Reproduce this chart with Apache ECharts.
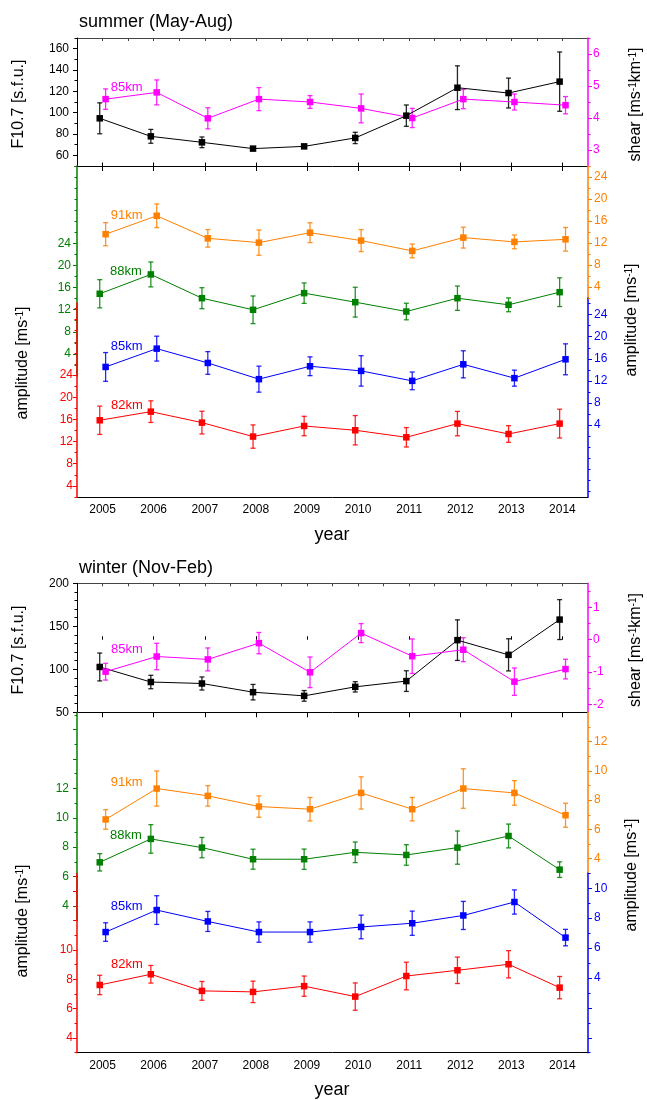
<!DOCTYPE html>
<html>
<head>
<meta charset="utf-8">
<script src="https://cdn.jsdelivr.net/npm/echarts@6/dist/echarts.min.js"></script>
<style>
  html, body { margin: 0; padding: 0; background: #ffffff; }
  #chart { width: 647px; height: 1100px; }
</style>
</head>
<body>
<div id="chart"></div>
<script>
// ---------------- data ----------------
const years = [2005, 2006, 2007, 2008, 2009, 2010, 2011, 2012, 2013, 2014];

// summer (May-Aug)
const sumF107       = [94.7, 77.8, 72.2, 66.3, 68.4, 76.3, 97.2, 123.4, 118.4, 129.1];
const sumF107Err    = [14.5, 6.5, 5.0, 1.5, 1.5, 5.3, 10.0, 20.5, 14.0, 27.8];
const sumShear85    = [4.59, 4.80, 3.99, 4.59, 4.50, 4.30, 4.00, 4.59, 4.50, 4.40];
const sumShear85Err = [0.32, 0.39, 0.33, 0.36, 0.20, 0.45, 0.30, 0.30, 0.25, 0.27];
const sumAmp91      = [13.6, 16.95, 12.85, 12.07, 13.88, 12.44, 10.56, 12.98, 12.2, 12.67];
const sumAmp91Err   = [2.1, 2.15, 1.6, 2.3, 1.8, 2.0, 1.25, 1.9, 1.25, 2.15];
const sumAmp88      = [14.88, 18.38, 14.08, 11.98, 14.99, 13.36, 11.67, 14.08, 12.88, 15.17];
const sumAmp88Err   = [2.55, 2.25, 1.9, 2.5, 1.85, 2.7, 1.5, 2.2, 1.25, 2.6];
const sumAmp85      = [14.53, 17.84, 15.25, 12.32, 14.65, 13.81, 12.01, 15.0, 12.5, 15.91];
const sumAmp85Err   = [2.6, 2.25, 2.05, 2.35, 1.7, 2.75, 1.6, 2.45, 1.45, 2.8];
const sumAmp82      = [15.84, 17.4, 15.42, 12.9, 14.81, 14.04, 12.77, 15.24, 13.37, 15.24];
const sumAmp82Err   = [2.55, 1.95, 2.05, 2.1, 1.75, 2.65, 1.75, 2.2, 1.5, 2.6];

// winter (Nov-Feb)
const winF107       = [102.7, 85.2, 83.5, 73.4, 69.1, 79.6, 86.3, 133.9, 116.8, 157.8];
const winF107Err    = [16.2, 7.8, 7.6, 9.0, 6.2, 6.0, 12.0, 23.6, 18.7, 23.2];
const winShear85    = [-0.99, -0.52, -0.61, -0.105, -1.01, 0.205, -0.51, -0.31, -1.30, -0.91];
const winShear85Err = [0.26, 0.41, 0.355, 0.33, 0.475, 0.295, 0.535, 0.37, 0.425, 0.305];
const winAmp91      = [6.68, 8.79, 8.29, 7.56, 7.38, 8.49, 7.38, 8.79, 8.49, 6.97];
const winAmp91Err   = [0.67, 1.2, 0.7, 0.73, 0.8, 1.1, 0.8, 1.35, 0.84, 0.82];
const winAmp88      = [6.97, 8.56, 7.97, 7.18, 7.18, 7.65, 7.47, 7.97, 8.76, 6.47];
const winAmp88Err   = [0.59, 0.97, 0.69, 0.68, 0.69, 0.7, 0.7, 1.13, 0.81, 0.53];
const winAmp85      = [7.07, 8.54, 7.78, 7.07, 7.07, 7.41, 7.66, 8.18, 9.08, 6.70];
const winAmp85Err   = [0.62, 0.96, 0.67, 0.68, 0.68, 0.79, 0.81, 0.94, 0.81, 0.55];
const winAmp82      = [7.61, 8.34, 7.21, 7.14, 7.53, 6.82, 8.22, 8.61, 9.02, 7.43];
const winAmp82Err   = [0.66, 0.6, 0.64, 0.73, 0.69, 0.93, 0.94, 0.9, 0.93, 0.76];

// tick labels
const sumF107Ticks  = [60, 80, 100, 120, 140, 160];
const sumShearTicks = [3, 4, 5, 6];
const sumAmpTicks   = [4, 8, 12, 16, 20, 24];
const winF107Ticks  = [50, 100, 150, 200];
const winShearTicks = [-2, -1, 0, 1];
const winGreenTicks = [4, 6, 8, 10, 12];
const winRedTicks   = [4, 6, 8, 10];
const winOrangeTicks = [4, 6, 8, 10, 12];
const winBlueTicks  = [4, 6, 8, 10];

// ---------------- layout / style ----------------
const FONT = '"Liberation Sans", Arial, Helvetica, sans-serif';
const COL = { black: '#000000', magenta: '#ff00ff', orange: '#ff8000', green: '#008000', blue: '#0000ff', red: '#ff0000' };
const X_MIN = 2004.5, X_MAX = 2014.5;
const LEFT = 77, RIGHT = 59;
const OFF_L = -0.055, OFF_R = 0.06;   // small horizontal shift between overlapping series

const grids = [], xAxes = [], yAxes = [], series = [], graphics = [];

function range(a, b, step) {
  const out = [];
  for (let v = a; v <= b + 1e-9; v += step) out.push(+v.toFixed(6));
  return out;
}

function addGrid(top, bottom) {
  grids.push({ left: LEFT, right: RIGHT, top: top, height: bottom - top });
  return grids.length - 1;
}

function addXAxis(gi, extra) {
  xAxes.push(Object.assign({
    gridIndex: gi, type: 'value', min: X_MIN, max: X_MAX, position: 'bottom',
    axisLine: { show: false }, axisTick: { show: false }, axisLabel: { show: false },
    splitLine: { show: false }
  }, extra || {}));
  return xAxes.length - 1;
}

function addHiddenY(gi) {
  yAxes.push({ gridIndex: gi, type: 'value', min: 0, max: 1, show: false });
  return yAxes.length - 1;
}

// a coloured y axis: one axis carries line, long ticks and labels, a twin carries short ticks
function addYAxis(gi, cfg) {
  const base = { gridIndex: gi, type: 'value', min: cfg.min, max: cfg.max, position: cfg.side,
                 splitLine: { show: false }, z: cfg.z || 5 };
  yAxes.push(Object.assign({}, base, {
    axisLine: { show: true, onZero: false, lineStyle: { color: cfg.color, width: cfg.lineWidth || 1.5 } },
    axisTick: { show: true, inside: !!cfg.inside, length: 4, customValues: cfg.majors,
                lineStyle: { color: cfg.color, width: 1 } },
    axisLabel: { show: true, customValues: cfg.labels, margin: cfg.margin, color: cfg.color,
                 fontSize: 12, fontFamily: FONT, formatter: v => String(v) }
  }));
  const idx = yAxes.length - 1;
  yAxes.push(Object.assign({}, base, {
    axisLine: { show: false },
    axisTick: { show: true, inside: !!cfg.inside, length: 2.5, customValues: cfg.minors,
                lineStyle: { color: cfg.color, width: 1 } },
    axisLabel: { show: false }
  }));
  return idx;
}

function errorBarRenderer(color) {
  return function (params, api) {
    const x = api.value(0);
    const lo = api.coord([x, api.value(1)]);
    const hi = api.coord([x, api.value(2)]);
    const w = 2.5;
    const st = { stroke: color, lineWidth: 1.3, opacity: 0.85 };
    return {
      type: 'group', children: [
        { type: 'line', shape: { x1: lo[0], y1: lo[1], x2: hi[0], y2: hi[1] }, style: st },
        { type: 'line', shape: { x1: lo[0] - w, y1: lo[1], x2: lo[0] + w, y2: lo[1] }, style: st },
        { type: 'line', shape: { x1: hi[0] - w, y1: hi[1], x2: hi[0] + w, y2: hi[1] }, style: st }
      ]
    };
  };
}

function addSeries(name, xi, yi, vals, errs, color, off) {
  series.push({
    name: name + ' err', type: 'custom', xAxisIndex: xi, yAxisIndex: yi, z: 3, silent: true,
    animation: false, clip: false,
    data: years.map((yr, i) => [yr + off, vals[i] - errs[i], vals[i] + errs[i]]),
    encode: { x: 0, y: [1, 2] },
    renderItem: errorBarRenderer(color)
  });
  series.push({
    name: name, type: 'line', xAxisIndex: xi, yAxisIndex: yi, z: 4, silent: true,
    animation: false, clip: false, showAllSymbol: true,
    data: years.map((yr, i) => [yr + off, vals[i]]),
    symbol: 'rect', symbolSize: 6.5,
    lineStyle: { color: color, width: 1 }, itemStyle: { color: color }
  });
}

function text(x, y, str, color, size, align) {
  graphics.push({
    type: 'text', x: x, y: y, silent: true,
    style: { text: str, fill: color, font: size + 'px ' + FONT,
             textAlign: align || 'left', textVerticalAlign: 'middle' }
  });
}

function vtext(x, y, str) {
  graphics.push({
    type: 'text', x: x, y: y, rotation: Math.PI / 2, silent: true,
    style: { text: str, fill: '#000', font: '16px ' + FONT,
             textAlign: 'center', textVerticalAlign: 'middle',
             rich: { s: { fontSize: 10, fontFamily: FONT, fill: '#000', verticalAlign: 'top', padding: [0, 0, 6, 0] } } }
  });
}

// ---------------- one season block ----------------
function buildSeason(cfg) {
  // upper panel: F10.7 and wind shear
  const gTop = addGrid(cfg.topPanel[0], cfg.topPanel[1]);
  const xTop = addXAxis(gTop, {
    position: 'bottom',
    axisLine: { show: true, onZero: false, lineStyle: { color: '#000', width: 1 } },
    axisTick: { show: true, length: 5, customValues: years, lineStyle: { color: '#000' } }
  });
  addXAxis(gTop, {
    position: 'bottom',
    axisTick: { show: true, inside: true, length: 3.5, customValues: years, lineStyle: { color: '#000' } }
  });
  addXAxis(gTop, {
    position: 'top',
    axisLine: { show: true, onZero: false, lineStyle: { color: '#444', width: 1 } },
    axisTick: { show: true, inside: true, length: 3, customValues: range(2005, 2014, 0.5), lineStyle: { color: '#444' } }
  });
  const yF = addYAxis(gTop, Object.assign({ side: 'left', color: COL.black, lineWidth: 1, margin: 8 }, cfg.f107Axis));
  const yS = addYAxis(gTop, Object.assign({ side: 'right', color: COL.magenta, margin: 5 }, cfg.shearAxis));
  addSeries('F10.7', xTop, yF, cfg.f107, cfg.f107Err, COL.black, OFF_L);
  addSeries('shear 85km', xTop, yS, cfg.shear, cfg.shearErr, COL.magenta, OFF_R);

  // lower panel frame with the year axis
  const gLow = addGrid(cfg.lowPanel[0], cfg.lowPanel[1]);
  addXAxis(gLow, {
    position: 'bottom',
    axisLine: { show: true, onZero: false, lineStyle: { color: '#000', width: 1 } },
    axisLabel: { show: true, customValues: years, margin: 7, color: '#000', fontSize: 12, fontFamily: FONT,
                 formatter: v => String(v) }
  });
  addHiddenY(gLow);

  // one layer per altitude, each with its own scale
  cfg.layers.forEach(L => {
    const g = addGrid(L.top, L.bottom);
    const xi = addXAxis(g, {});
    const yi = addYAxis(g, {
      side: L.side, color: L.color, min: L.min, max: L.max, majors: L.majors, minors: L.minors,
      labels: L.labels, margin: L.margin, z: L.z
    });
    addSeries(L.name, xi, yi, L.vals, L.errs, L.color, L.off);
  });

  // texts
  text(79, cfg.titleY, cfg.title, '#000', 18);
  vtext(19, cfg.f107LabelY, 'F10.7 [s.f.u.]');
  vtext(636, cfg.shearLabelY, 'shear [ms{s|-1}km{s|-1}]');
  vtext(23, cfg.ampLeftY, 'amplitude [ms{s|-1}]');
  vtext(632, cfg.ampRightY, 'amplitude [ms{s|-1}]');
  text(332, cfg.yearY, 'year', '#000', 18, 'center');
  cfg.tags.forEach(t => text(t[0], t[1], t[2], t[3], 13));
}

buildSeason({
  title: 'summer (May-Aug)', titleY: 22.5,
  topPanel: [38, 166], lowPanel: [166, 497],
  f107: sumF107, f107Err: sumF107Err, shear: sumShear85, shearErr: sumShear85Err,
  f107Axis: { min: 50, max: 170, majors: range(60, 160, 20), minors: range(50, 170, 10), labels: sumF107Ticks },
  shearAxis: { min: 2.5, max: 6.5, majors: [3, 4, 5, 6], minors: range(2.5, 6.5, 0.5), labels: sumShearTicks },
  layers: [
    { name: '88km', top: 166, bottom: 376, min: 0, max: 38, side: 'left', color: COL.green, off: OFF_L,
      majors: range(4, 24, 4), minors: range(2, 38, 2), labels: sumAmpTicks, margin: 6, z: 5,
      vals: sumAmp88, errs: sumAmp88Err },
    { name: '82km', top: 303, bottom: 497, min: 2, max: 37, side: 'left', color: COL.red, off: OFF_L,
      majors: range(4, 24, 4), minors: range(2, 36, 2), labels: sumAmpTicks, margin: 4, z: 6,
      vals: sumAmp82, errs: sumAmp82Err },
    { name: '91km', top: 166, bottom: 298, min: 2, max: 26, side: 'right', color: COL.orange, off: OFF_R,
      majors: range(4, 24, 4), minors: range(2, 26, 2), labels: sumAmpTicks, margin: 6, z: 5,
      vals: sumAmp91, errs: sumAmp91Err },
    { name: '85km', top: 298, bottom: 497, min: -9, max: 27, side: 'right', color: COL.blue, off: OFF_R,
      majors: range(4, 24, 4), minors: range(-8, 26, 2), labels: sumAmpTicks, margin: 6, z: 5,
      vals: sumAmp85, errs: sumAmp85Err }
  ],
  f107LabelY: 104, shearLabelY: 104.5, ampLeftY: 363, ampRightY: 320, yearY: 535,
  tags: [
    [110.7, 87.3, '85km', COL.magenta],
    [110.7, 215.7, '91km', COL.orange],
    [110, 271.7, '88km', COL.green],
    [110.7, 346.7, '85km', COL.blue],
    [111, 405, '82km', COL.red]
  ]
});

buildSeason({
  title: 'winter (Nov-Feb)', titleY: 568,
  topPanel: [583.3, 712.3], lowPanel: [712.3, 1052.7],
  f107: winF107, f107Err: winF107Err, shear: winShear85, shearErr: winShear85Err,
  f107Axis: { min: 50, max: 200, majors: range(50, 200, 50), minors: range(50, 200, 10), labels: winF107Ticks },
  shearAxis: { min: -2.25, max: 1.75, majors: [-2, -1, 0, 1], minors: range(-2, 1.5, 0.5), labels: winShearTicks },
  layers: [
    { name: '88km', top: 712.3, bottom: 920.7, min: 3, max: 17.17, side: 'left', color: COL.green, off: OFF_L,
      majors: range(4, 16, 2), minors: range(3, 17, 1), labels: winGreenTicks, margin: 8, z: 5,
      vals: winAmp88, errs: winAmp88Err },
    { name: '82km', top: 873.5, bottom: 1052.7, min: 3, max: 15.2, side: 'left', color: COL.red, off: OFF_L,
      majors: range(4, 14, 2), minors: range(3, 15, 1), labels: winRedTicks, margin: 4, z: 6,
      vals: winAmp82, errs: winAmp82Err },
    { name: '91km', top: 712.3, bottom: 873.3, min: 3, max: 14, side: 'right', color: COL.orange, off: OFF_R,
      majors: range(4, 12, 2), minors: range(3, 13, 1), labels: winOrangeTicks, margin: 6, z: 5,
      vals: winAmp91, errs: winAmp91Err },
    { name: '85km', top: 873.3, bottom: 1052.7, min: -1, max: 11, side: 'right', color: COL.blue, off: OFF_R,
      majors: range(0, 10, 2), minors: range(-1, 11, 1), labels: winBlueTicks, margin: 6, z: 5,
      vals: winAmp85, errs: winAmp85Err }
  ],
  f107LabelY: 650, shearLabelY: 650, ampLeftY: 921, ampRightY: 875, yearY: 1090,
  tags: [
    [111, 649.3, '85km', COL.magenta],
    [110.7, 782.3, '91km', COL.orange],
    [110, 835, '88km', COL.green],
    [110.7, 906.7, '85km', COL.blue],
    [111, 964.3, '82km', COL.red]
  ]
});

const chart = echarts.init(document.getElementById('chart'), null, { renderer: 'canvas' });
chart.setOption({
  backgroundColor: '#ffffff',
  animation: false,
  grid: grids,
  xAxis: xAxes,
  yAxis: yAxes,
  series: series,
  graphic: { elements: graphics }
});
</script>
</body>
</html>
